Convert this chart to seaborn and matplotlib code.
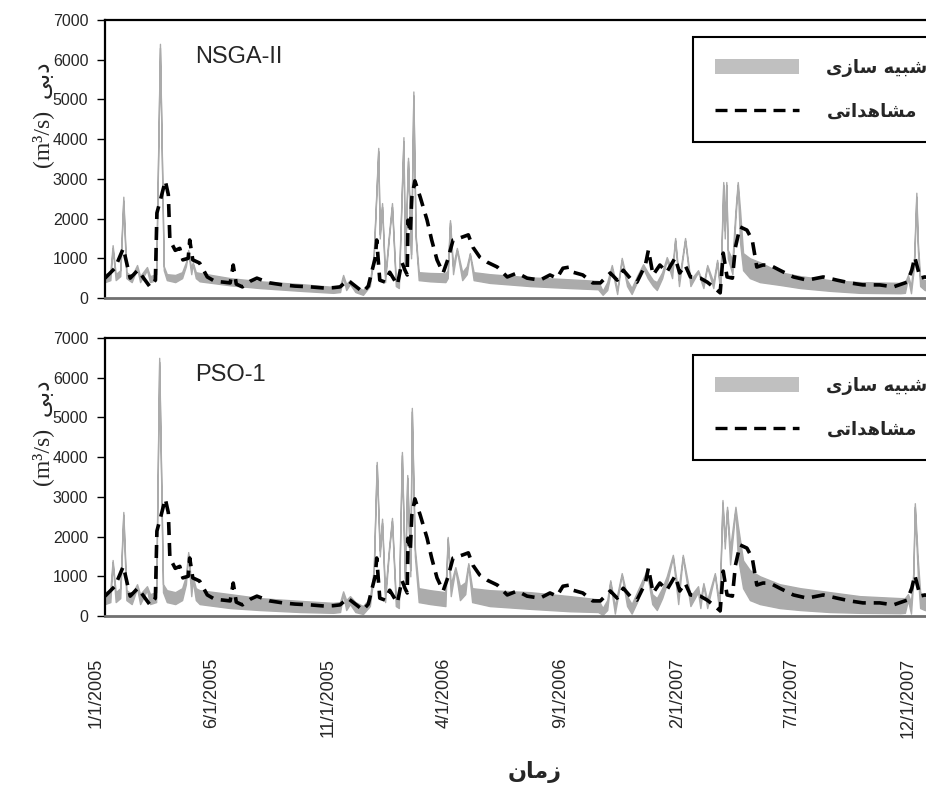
import pandas as pd
import numpy as np
import matplotlib
matplotlib.use("Agg")
import matplotlib.pyplot as plt
import seaborn as sns
from matplotlib.lines import Line2D
from matplotlib.patches import Patch

# days since 1/1/2005
obs_day = [0, 13, 24, 33, 43, 59, 66, 68, 73, 79, 83, 85, 92, 98, 102, 109, 111, 115, 124, 134,
           144, 155, 164, 168, 172, 180, 190, 199, 210, 216, 233, 249, 269, 288, 299, 308, 318,
           328, 338, 345, 350, 354, 356, 360, 367, 373, 383, 389, 393, 396, 397, 400, 402, 406,
           413, 422, 428, 435, 443, 449, 456, 463, 469, 476, 482, 491, 501, 514, 527, 540, 553,
           570, 583, 592, 600, 609, 613, 626, 639, 649, 662, 671, 679, 688, 697, 708, 712, 718,
           727, 736, 747, 753, 760, 767, 780, 789, 797, 806, 810, 815, 822, 826, 832, 841, 848,
           854, 862, 871, 884, 902, 920, 941, 959, 976, 993, 1015, 1033, 1051, 1057, 1061, 1068,
           1074, 1088]
obs_q = [500, 750, 1250, 500, 700, 280, 450, 2140, 2500, 2950, 2600, 1460, 1200, 1250, 960, 1000,
         1460, 960, 880, 530, 420, 400, 380, 830, 350, 280, 420, 500, 420, 380, 330, 300, 280, 250,
         260, 280, 450, 300, 150, 300, 700, 1000, 1460, 450, 400, 650, 330, 900, 700, 580, 1960,
         1640, 2540, 2950, 2540, 1960, 1460, 960, 630, 960, 1460, 1500, 1540, 1590, 1280, 1030, 900,
         780, 530, 630, 500, 450, 580, 500, 750, 780, 650, 580, 380, 380, 630, 450, 700, 500, 400,
         830, 1210, 580, 830, 650, 1010, 630, 830, 530, 500, 400, 280, 130, 1130, 530, 500, 1280,
         1790, 1710, 1460, 780, 830, 830, 700, 530, 450, 530, 450, 380, 330, 330, 280, 400, 700,
         1030, 500, 530, 480]

nsga_day = [0, 7, 10, 14, 20, 24, 28, 35, 42, 46, 55, 59, 67, 72, 77, 81, 92, 101, 106, 109, 113,
            115, 119, 124, 164, 203, 256, 299, 308, 312, 316, 321, 328, 338, 347, 352, 358, 360,
            363, 367, 372, 376, 381, 385, 391, 393, 397, 401, 404, 407, 411, 426, 446, 449, 452,
            456, 461, 468, 474, 478, 483, 504, 557, 609, 646, 652, 658, 664, 671, 677, 684, 690,
            697, 705, 711, 718, 723, 730, 736, 743, 747, 752, 760, 767, 777, 784, 789, 797, 802,
            806, 809, 810, 812, 814, 816, 822, 826, 829, 832, 836, 845, 858, 884, 911, 950, 989,
            1042, 1048, 1052, 1056, 1060, 1063, 1065, 1068, 1074, 1094]
nsga_lo = [400, 450, 1250, 450, 550, 2450, 500, 400, 750, 400, 700, 400, 450, 6300, 700, 450, 400,
           500, 800, 1150, 600, 850, 500, 420, 320, 250, 180, 130, 150, 520, 200, 350, 150, 80, 300,
           1000, 3700, 1500, 2300, 400, 1500, 2300, 300, 250, 3950, 800, 3450, 1000, 5100, 1500,
           450, 420, 400, 500, 1900, 600, 1200, 450, 600, 1100, 450, 380, 300, 250, 220, 80, 200,
           750, 100, 950, 300, 100, 400, 750, 500, 300, 200, 500, 950, 500, 1450, 300, 1450, 300,
           650, 250, 780, 250, 900, 150, 2000, 2850, 1500, 2850, 1000, 600, 2000, 2850, 1400, 700,
           500, 400, 330, 250, 180, 130, 120, 130, 500, 120, 800, 2550, 1200, 300, 200, 180]
nsga_hi = [600, 650, 1330, 600, 700, 2550, 650, 550, 830, 550, 780, 550, 600, 6400, 800, 600, 580,
           650, 900, 1210, 750, 900, 650, 630, 500, 420, 350, 280, 300, 580, 350, 450, 300, 200, 400,
           1100, 3780, 1600, 2390, 550, 1600, 2390, 450, 400, 4050, 900, 3530, 1100, 5200, 1600,
           650, 630, 620, 700, 1960, 800, 1260, 650, 800, 1130, 650, 600, 520, 470, 430, 180, 400,
           830, 200, 1010, 450, 250, 550, 850, 650, 450, 400, 650, 1030, 700, 1510, 450, 1510, 450,
           700, 350, 830, 400, 960, 250, 2200, 2920, 1700, 2920, 1210, 960, 2200, 2920, 2220, 1130,
           1000, 900, 650, 550, 450, 400, 380, 380, 580, 300, 1000, 2650, 1400, 500, 450, 430]

pso_day = [0, 7, 10, 14, 20, 24, 28, 35, 42, 46, 55, 59, 67, 71, 76, 81, 92, 101, 106, 109, 113,
           115, 119, 124, 164, 203, 256, 299, 308, 312, 316, 321, 328, 338, 347, 352, 356, 360,
           363, 367, 372, 376, 381, 385, 389, 393, 396, 400, 402, 406, 411, 426, 446, 449, 453,
           459, 465, 472, 476, 481, 504, 557, 609, 646, 652, 658, 662, 668, 677, 684, 690, 697,
           710, 717, 723, 730, 736, 744, 751, 757, 767, 777, 780, 784, 789, 799, 805, 809, 812,
           815, 819, 826, 829, 836, 845, 858, 884, 911, 950, 989, 1042, 1048, 1052, 1056, 1059,
           1061, 1065, 1068, 1074, 1094]
pso_lo = [300, 350, 1350, 350, 450, 2550, 400, 300, 700, 300, 650, 300, 350, 6400, 600, 350, 300,
          400, 800, 1550, 500, 900, 400, 300, 200, 150, 100, 80, 100, 550, 150, 300, 100, 50, 250,
          1000, 3800, 1500, 2350, 350, 1600, 2400, 250, 200, 4050, 800, 3480, 1000, 5150, 1500, 350,
          300, 250, 1950, 500, 1180, 400, 550, 1280, 350, 250, 180, 120, 100, 30, 150, 850, 60, 1030,
          250, 60, 350, 1100, 300, 150, 450, 800, 1480, 300, 1480, 250, 600, 200, 780, 200, 1030,
          100, 2850, 1700, 2680, 1300, 2680, 1500, 700, 400, 300, 200, 150, 100, 80, 70, 80, 400,
          60, 900, 2750, 1000, 200, 150, 120]
pso_hi = [600, 650, 1410, 600, 700, 2620, 650, 550, 800, 550, 750, 550, 600, 6500, 800, 650, 600,
          700, 1000, 1610, 800, 1000, 700, 650, 550, 450, 380, 330, 350, 620, 400, 500, 350, 250, 450,
          1150, 3880, 1650, 2450, 550, 1700, 2470, 450, 400, 4130, 950, 3550, 1150, 5240, 1700, 700,
          650, 600, 1990, 800, 1230, 750, 850, 1330, 700, 650, 600, 500, 420, 200, 400, 900, 250, 1080,
          500, 300, 600, 1160, 550, 450, 700, 1000, 1540, 600, 1540, 500, 750, 400, 830, 400, 1080,
          300, 2920, 1900, 2750, 1700, 2750, 2300, 1400, 1150, 1000, 800, 700, 600, 500, 450, 450,
          550, 350, 1100, 2840, 1400, 600, 500, 450]

panel_names = ["NSGA-II", "PSO-1"]
tick_dates = ["2005-01-01", "2005-06-01", "2005-11-01", "2006-04-01", "2006-09-01",
              "2007-02-01", "2007-07-01", "2007-12-01"]
tick_labels = ["1/1/2005", "6/1/2005", "11/1/2005", "4/1/2006", "9/1/2006",
               "2/1/2007", "7/1/2007", "12/1/2007"]

# Persian labels written in shaped (presentation) forms, visual order
lab_sim = "\uFEEF\uFEAF\uFE8E\uFEB3 \uFEEA\uFEF4\uFE92\uFEB7"      # شبیه سازی
lab_obs = "\uFEF0\uFE97\uFE8D\uFEAA\uFEEB\uFE8E\uFEB8\uFEE3"         # مشاهداتی
lab_time = "\uFEE5\uFE8E\uFEE3\uFEAF"                               # زمان
lab_q = "\uFEF0\uFE91\uFEA9"                                        # دبی

sns.set_style("white")
plt.rcParams['font.family'] = ['Liberation Sans', 'DejaVu Sans']

start = pd.Timestamp("2005-01-01")
to_date = lambda d: start + pd.to_timedelta(d, unit="D")

obs_df = pd.DataFrame({"date": to_date(obs_day), "q": obs_q})
sims = [(to_date(nsga_day), nsga_lo, nsga_hi), (to_date(pso_day), pso_lo, pso_hi)]

fig = plt.figure(figsize=(9.26, 7.87), dpi=100)
W, H = 926, 787
axes = [fig.add_axes([105 / W, 1 - 298 / H, 835 / W, 278 / H]),
        fig.add_axes([105 / W, 1 - 616 / H, 835 / W, 278 / H])]

sim_col = "#ababab"
dash = (0, (3.6, 2.2))

for i, ax in enumerate(axes):
    d, lo, hi = sims[i]
    ax.fill_between(d, lo, hi, color=sim_col, lw=1.0, edgecolor=sim_col, zorder=2)
    sns.lineplot(data=obs_df, x="date", y="q", ax=ax, color="black", lw=2.6,
                 linestyle=dash, zorder=3)
    ax.set_xlim(start, pd.Timestamp("2007-12-31"))
    ax.set_ylim(0, 7000)
    ax.set_yticks(np.arange(0, 7001, 1000))
    ax.tick_params(axis="y", length=6, width=1, color="black", pad=6, labelsize=11.5,
                   direction="out", left=True)
    ax.set_xlabel("")
    ax.set_ylabel("")
    for s in ["left", "top"]:
        ax.spines[s].set_color("black")
        ax.spines[s].set_linewidth(1.6)
    ax.spines["bottom"].set_color("#707070")
    ax.spines["bottom"].set_linewidth(2)
    ax.spines["right"].set_visible(False)
    ax.set_xticks(pd.to_datetime(tick_dates))
    if i == 1:
        ax.set_xticklabels(tick_labels, rotation=90, ha="right", va="top", fontsize=13)
        ax.tick_params(axis="x", length=0, pad=30)
    else:
        ax.set_xticklabels([])
        ax.tick_params(axis="x", length=0)

    ax.text(0.108, 0.867, panel_names[i], transform=ax.transAxes, fontsize=17,
            ha="left", va="center")

    handles = [Patch(facecolor="#c0c0c0", edgecolor="none"),
               Line2D([], [], color="black", lw=2.4, linestyle=dash)]
    leg = ax.legend(handles, [lab_sim, lab_obs], loc="upper left",
                    bbox_to_anchor=(0.704, 0.939), borderaxespad=0, frameon=True,
                    fancybox=False, framealpha=1, edgecolor="black",
                    borderpad=1.2, handlelength=4.7, handleheight=0.85,
                    handletextpad=1.5, labelspacing=1.45,
                    prop={"family": "DejaVu Sans", "weight": "bold", "size": 13})
    leg.get_frame().set_linewidth(1.5)

    fig.text(43 / W, 1 - (115 + 318 * i) / H, "(m³/s)  " + lab_q, rotation=90,
             ha="center", va="center", fontsize=17,
             family=["Liberation Serif", "DejaVu Sans"])

fig.text(535 / W, 1 - 772 / H, lab_time, ha="center", va="center", fontsize=16,
         fontweight="bold", family="DejaVu Sans")

fig.savefig("out.png", dpi=100)
